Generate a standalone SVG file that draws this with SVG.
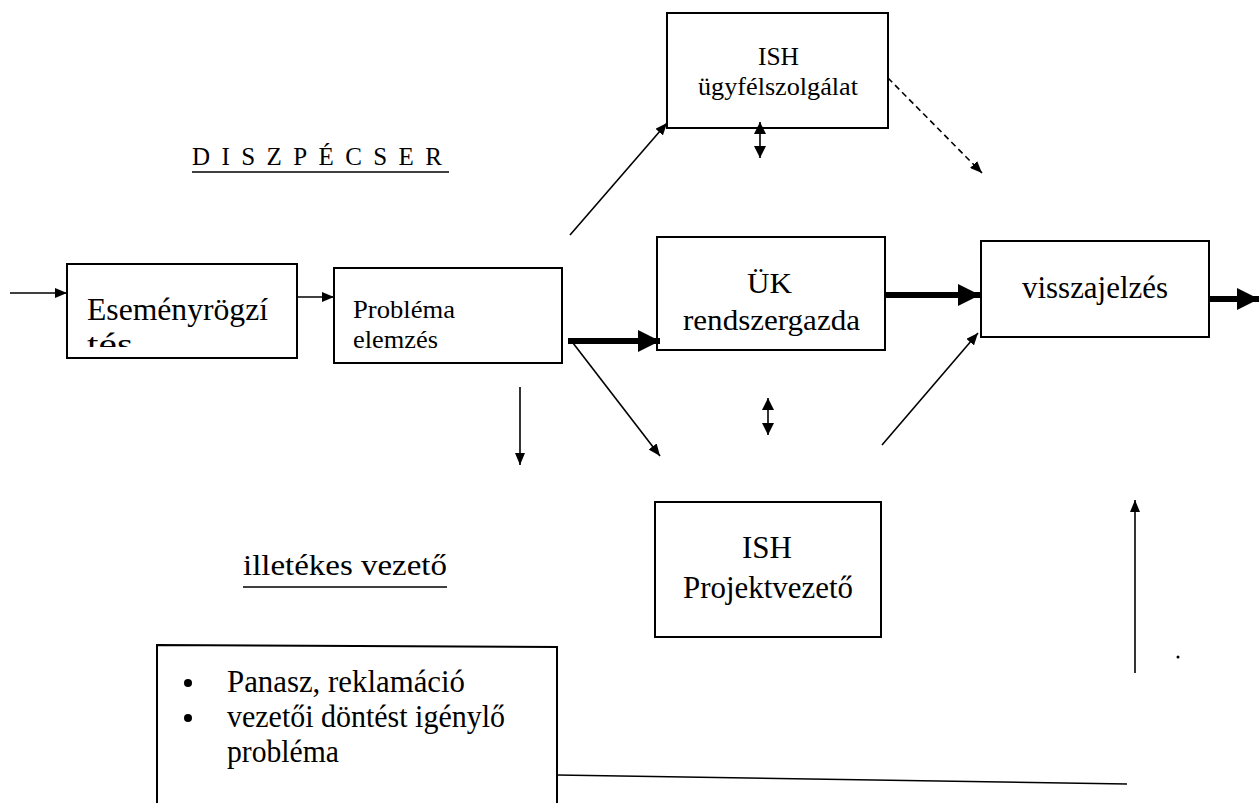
<svg xmlns="http://www.w3.org/2000/svg" width="1260" height="803" viewBox="0 0 1260 803" font-family="'Liberation Serif', serif">
<style>
text{font-family:'Liberation Serif', serif;fill:#000}
.box{fill:#fff;stroke:#000;stroke-width:2}
.thin{stroke:#000;stroke-width:1.6;fill:none}
.thick{stroke:#000;stroke-width:6;fill:none}
.dash{stroke:#000;stroke-width:1.6;fill:none;stroke-dasharray:6 4}
</style>
<defs>
<marker id="ah" viewBox="0 0 12 10" refX="12" refY="5" markerWidth="12" markerHeight="10" markerUnits="userSpaceOnUse" orient="auto">
<path d="M0,0 L12,5 L0,10 z" fill="#000"/>
</marker>
<marker id="ahT" viewBox="0 0 22 22" refX="22" refY="11" markerWidth="22" markerHeight="22" markerUnits="userSpaceOnUse" orient="auto">
<path d="M0,0 L22,11 L0,22 z" fill="#000"/>
</marker>
<marker id="dbl" viewBox="0 0 12 12" refX="12" refY="6" markerWidth="12" markerHeight="12" markerUnits="userSpaceOnUse" orient="auto">
<path d="M0,0 L12,6 L0,12 z" fill="#000"/>
</marker>
<clipPath id="clipE"><rect x="68" y="265" width="228" height="82"/></clipPath>
</defs>

<rect width="1260" height="803" fill="#fff"/>

<g id="label-diszpecser">
<text x="192" y="165" font-size="25" textLength="250" lengthAdjust="spacing">DISZPÉCSER</text>
<line x1="192" y1="172" x2="449" y2="172" stroke="#000" stroke-width="1.6"/>
</g>

<g id="label-illetekes">
<text x="243" y="575" font-size="30" textLength="204" lengthAdjust="spacingAndGlyphs">illetékes vezető</text>
<line x1="243" y1="587" x2="447" y2="587" stroke="#000" stroke-width="1.6"/>
</g>

<g id="node-esemeny">
<rect class="box" x="67" y="264" width="230" height="94"/>
<g clip-path="url(#clipE)">
<text x="87" y="320" font-size="32" textLength="181" lengthAdjust="spacingAndGlyphs">Eseményrögzí</text>
<text x="87" y="355" font-size="32" textLength="46" lengthAdjust="spacingAndGlyphs">tés</text>
</g>
</g>

<g id="node-problema">
<rect class="box" x="334" y="268" width="228" height="95"/>
<text x="353" y="318" font-size="26" textLength="102" lengthAdjust="spacingAndGlyphs">Probléma</text>
<text x="353" y="348" font-size="26" textLength="85" lengthAdjust="spacingAndGlyphs">elemzés</text>
</g>

<g id="node-ish-ugyfel">
<rect class="box" x="667" y="13" width="221" height="115"/>
<text x="758" y="65" font-size="25" textLength="41" lengthAdjust="spacingAndGlyphs">ISH</text>
<text x="698" y="95" font-size="25" textLength="160" lengthAdjust="spacingAndGlyphs">ügyfélszolgálat</text>
</g>

<g id="node-uk">
<rect class="box" x="657" y="237" width="228" height="113"/>
<text x="747" y="293" font-size="30" textLength="45" lengthAdjust="spacingAndGlyphs">ÜK</text>
<text x="683" y="330" font-size="30" textLength="177" lengthAdjust="spacingAndGlyphs">rendszergazda</text>
</g>

<g id="node-vissza">
<rect class="box" x="981" y="241" width="228" height="96"/>
<text x="1022" y="298" font-size="31" textLength="146" lengthAdjust="spacingAndGlyphs">visszajelzés</text>
</g>

<g id="node-ish-projekt">
<rect class="box" x="655" y="502" width="226" height="135"/>
<text x="742" y="558" font-size="31" textLength="50" lengthAdjust="spacingAndGlyphs">ISH</text>
<text x="683" y="598" font-size="31" textLength="170" lengthAdjust="spacingAndGlyphs">Projektvezető</text>
</g>

<g id="node-panasz">
<path class="box" d="M157,803 L157,645 L557,647 L557,803"/>
<circle cx="188" cy="683" r="4"/>
<circle cx="188" cy="718" r="4"/>
<text x="227" y="692" font-size="31" textLength="238" lengthAdjust="spacingAndGlyphs">Panasz, reklamáció</text>
<text x="227" y="727" font-size="31" textLength="278" lengthAdjust="spacingAndGlyphs">vezetői döntést igénylő</text>
<text x="227" y="762" font-size="31" textLength="112" lengthAdjust="spacingAndGlyphs">probléma</text>
</g>

<g id="connectors">
<line class="thin" x1="10" y1="293" x2="67" y2="293" marker-end="url(#ah)"/>
<line class="thin" x1="298" y1="297" x2="334" y2="297" marker-end="url(#ah)"/>
<line class="thick" x1="568" y1="341" x2="660" y2="341" marker-end="url(#ahT)"/>
<line class="thin" x1="570" y1="235" x2="667" y2="123" marker-end="url(#ah)"/>
<line class="thin" x1="573" y1="343" x2="660" y2="456" marker-end="url(#ah)"/>
<line class="thin" x1="520" y1="387" x2="520" y2="465" marker-end="url(#ah)"/>
<line class="thin" x1="760" y1="140" x2="760" y2="122" marker-end="url(#dbl)"/>
<line class="thin" x1="760" y1="140" x2="760" y2="158" marker-end="url(#dbl)"/>
<line class="thin" x1="768" y1="416" x2="768" y2="398" marker-end="url(#dbl)"/>
<line class="thin" x1="768" y1="416" x2="768" y2="435" marker-end="url(#dbl)"/>
<line class="dash" x1="888" y1="78" x2="982" y2="173" marker-end="url(#ah)"/>
<line class="thick" x1="885" y1="295" x2="980" y2="295" marker-end="url(#ahT)"/>
<line class="thin" x1="882" y1="445" x2="978" y2="333" marker-end="url(#ah)"/>
<line class="thick" x1="1209" y1="299" x2="1259" y2="299" marker-end="url(#ahT)"/>
<line class="thin" x1="1135" y1="673" x2="1135" y2="500" marker-end="url(#ah)"/>
<line class="thin" x1="557" y1="775" x2="1127" y2="784"/>
</g>

<circle cx="1178" cy="657" r="1.5" fill="#000"/>
</svg>
